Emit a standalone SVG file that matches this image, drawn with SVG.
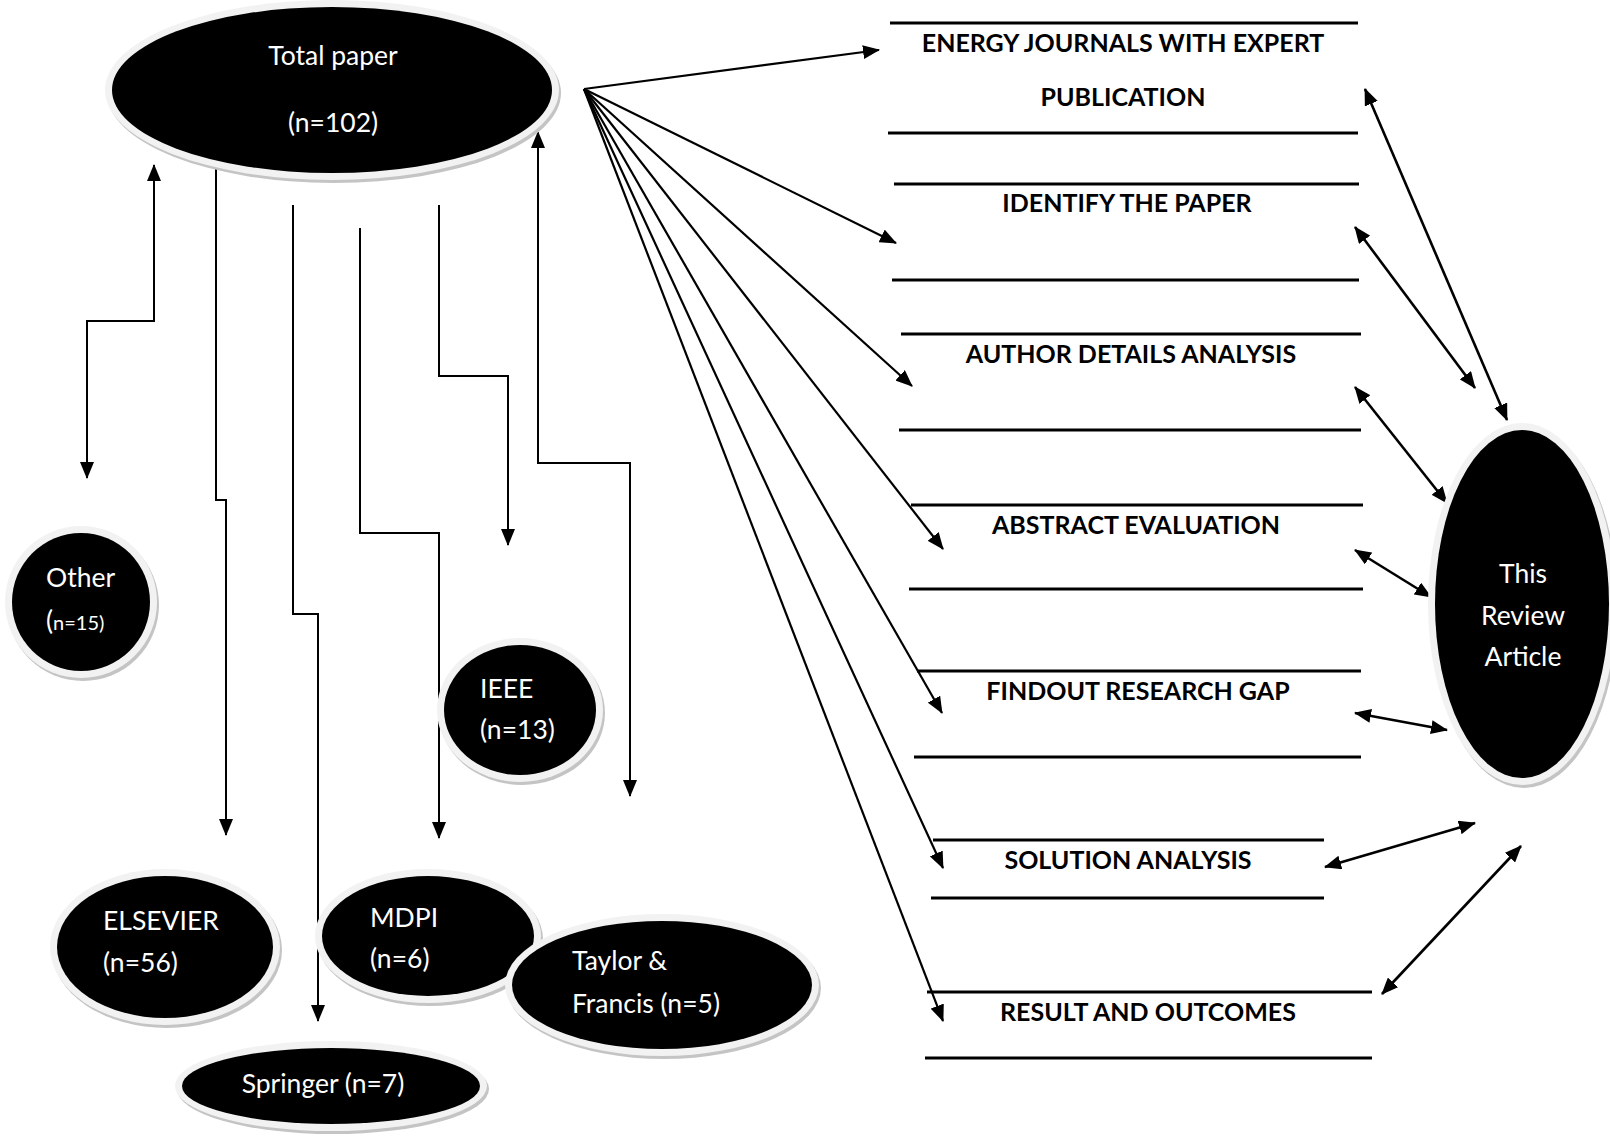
<svg xmlns="http://www.w3.org/2000/svg" width="1610" height="1143" viewBox="0 0 1610 1143">
<defs>
<marker id="ah" markerUnits="userSpaceOnUse" markerWidth="18" markerHeight="14" refX="16" refY="7" orient="auto-start-reverse" viewBox="0 0 18 14">
<path d="M0,0 L17,7 L0,14 z" fill="#000"/>
</marker>
</defs>
<style>
.bg{fill:#fff}
.sh{fill:#c4c4c4}
.rim{fill:#f2f2f2}
.core{fill:#000}
.nt{font-family:Lato,"Liberation Sans",sans-serif;font-size:26.5px;fill:#fff}
.bt{font-family:Lato,"Liberation Sans",sans-serif;font-size:25px;font-weight:bold;fill:#000;text-anchor:middle}
.rule{stroke:#000;stroke-width:3;fill:none}
.tree{stroke:#000;stroke-width:2;fill:none}
.fan{stroke:#000;stroke-width:2.2;fill:none;marker-end:url(#ah)}
.dbl{stroke:#000;stroke-width:2.6;fill:none;marker-start:url(#ah);marker-end:url(#ah)}
</style>
<rect class="bg" x="0" y="0" width="1610" height="1143"/>

<g id="connectors">
<path class="tree" d="M154,165 V321 H87 V478" marker-start="url(#ah)" marker-end="url(#ah)"/>
<path class="tree" d="M216,150 V500 H226 V835" marker-end="url(#ah)"/>
<path class="tree" d="M293,205 V614 H318 V1021" marker-end="url(#ah)"/>
<path class="tree" d="M360,228 V533 H439 V838" marker-end="url(#ah)"/>
<path class="tree" d="M439,205 V376 H508 V545" marker-end="url(#ah)"/>
<path class="tree" d="M538,132 V463 H630 V796" marker-start="url(#ah)" marker-end="url(#ah)"/>
<line class="fan" x1="584" y1="89" x2="879" y2="50"/>
<line class="fan" x1="584" y1="89" x2="896" y2="243"/>
<line class="fan" x1="584" y1="89" x2="912" y2="386"/>
<line class="fan" x1="584" y1="89" x2="943" y2="549"/>
<line class="fan" x1="584" y1="89" x2="942" y2="713"/>
<line class="fan" x1="584" y1="89" x2="943" y2="868"/>
<line class="fan" x1="584" y1="89" x2="943" y2="1021"/>
<line class="dbl" x1="1365" y1="89" x2="1507" y2="420"/>
<line class="dbl" x1="1355" y1="227" x2="1475" y2="388"/>
<line class="dbl" x1="1355" y1="387" x2="1447" y2="503"/>
<line class="dbl" x1="1355" y1="550" x2="1431" y2="597"/>
<line class="dbl" x1="1355" y1="713" x2="1447" y2="730"/>
<line class="dbl" x1="1325" y1="867" x2="1475" y2="823"/>
<line class="dbl" x1="1382" y1="994" x2="1521" y2="846"/>
</g>

<g id="total-paper">
<ellipse class="sh" cx="334" cy="93" rx="227" ry="90"/>
<ellipse class="rim" cx="332" cy="90" rx="227" ry="90"/>
<ellipse class="core" cx="332" cy="90" rx="220" ry="83"/>
<text class="nt" x="333" y="65" text-anchor="middle">Total paper</text>
<text class="nt" x="333" y="132" text-anchor="middle">(n=102)</text>
</g>

<g id="other">
<ellipse class="sh" cx="83" cy="605" rx="76" ry="76"/>
<ellipse class="rim" cx="81" cy="602" rx="76" ry="76"/>
<ellipse class="core" cx="81" cy="602" rx="69" ry="69"/>
<text class="nt" x="46" y="587">Other</text>
<text class="nt" x="46" y="630">(<tspan font-size="20">n=15)</tspan></text>
</g>

<g id="ieee">
<ellipse class="sh" cx="522" cy="713" rx="83" ry="72"/>
<ellipse class="rim" cx="520" cy="710" rx="83" ry="72"/>
<ellipse class="core" cx="520" cy="710" rx="76" ry="65"/>
<text class="nt" x="480" y="698">IEEE</text>
<text class="nt" x="480" y="739">(n=13)</text>
</g>

<g id="elsevier">
<ellipse class="sh" cx="167" cy="950" rx="115" ry="78"/>
<ellipse class="rim" cx="165" cy="947" rx="115" ry="78"/>
<ellipse class="core" cx="165" cy="947" rx="108" ry="71"/>
<text class="nt" x="103" y="930">ELSEVIER</text>
<text class="nt" x="103" y="972">(n=56)</text>
</g>

<g id="mdpi">
<ellipse class="sh" cx="430" cy="939" rx="113" ry="67"/>
<ellipse class="rim" cx="428" cy="936" rx="113" ry="67"/>
<ellipse class="core" cx="428" cy="936" rx="106" ry="60"/>
<text class="nt" x="370" y="927">MDPI</text>
<text class="nt" x="370" y="968">(n=6)</text>
</g>

<g id="taylor-francis">
<ellipse class="sh" cx="664" cy="988" rx="157" ry="71"/>
<ellipse class="rim" cx="662" cy="985" rx="157" ry="71"/>
<ellipse class="core" cx="662" cy="985" rx="150" ry="64"/>
<text class="nt" x="572" y="970">Taylor &amp;</text>
<text class="nt" x="572" y="1013">Francis (n=5)</text>
</g>

<g id="springer">
<ellipse class="sh" cx="333" cy="1089" rx="156" ry="45"/>
<ellipse class="rim" cx="331" cy="1086" rx="156" ry="45"/>
<ellipse class="core" cx="331" cy="1086" rx="149" ry="38"/>
<text class="nt" x="323" y="1093" text-anchor="middle">Springer (n=7)</text>
</g>

<g id="review-article">
<ellipse class="sh" cx="1524" cy="607" rx="94" ry="181"/>
<ellipse class="rim" cx="1522" cy="604" rx="94" ry="181"/>
<ellipse class="core" cx="1522" cy="604" rx="87" ry="174"/>
<text class="nt" x="1523" y="583" text-anchor="middle">This</text>
<text class="nt" x="1523" y="625" text-anchor="middle">Review</text>
<text class="nt" x="1523" y="666" text-anchor="middle">Article</text>
</g>

<g id="box-energy-journals">
<line class="rule" x1="890" y1="23" x2="1358" y2="23"/>
<line class="rule" x1="888" y1="133" x2="1358" y2="133"/>
<text class="bt" x="1123" y="52">ENERGY JOURNALS WITH EXPERT</text>
<text class="bt" x="1123" y="106">PUBLICATION</text>
</g>

<g id="box-identify">
<line class="rule" x1="894" y1="184" x2="1359" y2="184"/>
<line class="rule" x1="892" y1="280" x2="1359" y2="280"/>
<text class="bt" x="1127" y="212">IDENTIFY THE PAPER</text>
</g>

<g id="box-author">
<line class="rule" x1="901" y1="334" x2="1361" y2="334"/>
<line class="rule" x1="899" y1="430" x2="1361" y2="430"/>
<text class="bt" x="1131" y="363">AUTHOR DETAILS ANALYSIS</text>
</g>

<g id="box-abstract">
<line class="rule" x1="911" y1="505" x2="1363" y2="505"/>
<line class="rule" x1="909" y1="589" x2="1363" y2="589"/>
<text class="bt" x="1136" y="534">ABSTRACT EVALUATION</text>
</g>

<g id="box-gap">
<line class="rule" x1="917" y1="671" x2="1361" y2="671"/>
<line class="rule" x1="914" y1="757" x2="1361" y2="757"/>
<text class="bt" x="1138" y="700">FINDOUT RESEARCH GAP</text>
</g>

<g id="box-solution">
<line class="rule" x1="933" y1="840" x2="1324" y2="840"/>
<line class="rule" x1="931" y1="898" x2="1324" y2="898"/>
<text class="bt" x="1128" y="869">SOLUTION ANALYSIS</text>
</g>

<g id="box-result">
<line class="rule" x1="927" y1="992" x2="1372" y2="992"/>
<line class="rule" x1="925" y1="1058" x2="1372" y2="1058"/>
<text class="bt" x="1148" y="1021">RESULT AND OUTCOMES</text>
</g>
</svg>
